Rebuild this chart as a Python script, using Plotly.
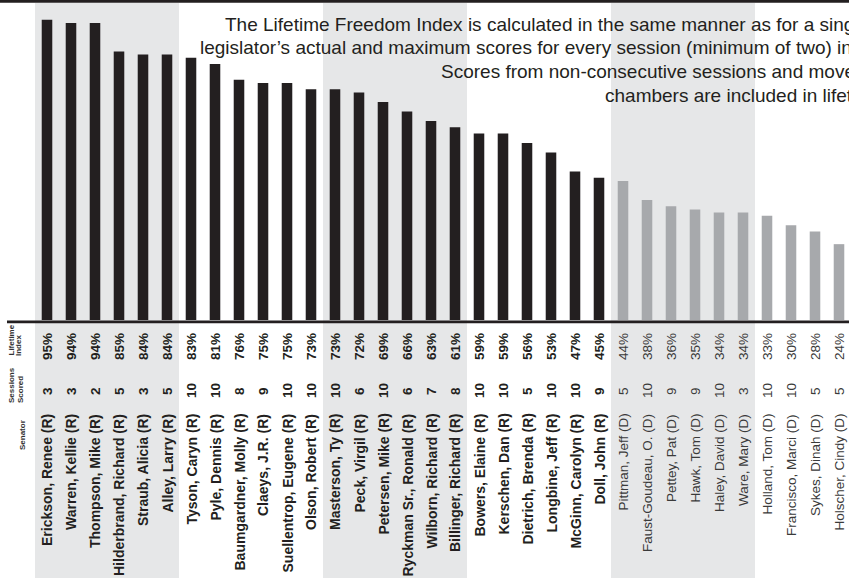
import plotly.graph_objects as go

senators = ["Erickson, Renee (R)", "Warren, Kellie (R)", "Thompson, Mike (R)",
            "Hilderbrand, Richard (R)", "Straub, Alicia (R)", "Alley, Larry (R)",
            "Tyson, Caryn (R)", "Pyle, Dennis (R)", "Baumgardner, Molly (R)",
            "Claeys, J.R. (R)", "Suellentrop, Eugene (R)", "Olson, Robert (R)",
            "Masterson, Ty (R)", "Peck, Virgil (R)", "Petersen, Mike (R)",
            "Ryckman Sr., Ronald (R)", "Wilborn, Richard (R)", "Billinger, Richard (R)",
            "Bowers, Elaine (R)", "Kerschen, Dan (R)", "Dietrich, Brenda (R)",
            "Longbine, Jeff (R)", "McGinn, Carolyn (R)", "Doll, John (R)",
            "Pittman, Jeff (D)", "Faust-Goudeau, O. (D)", "Pettey, Pat (D)",
            "Hawk, Tom (D)", "Haley, David (D)", "Ware, Mary (D)",
            "Holland, Tom (D)", "Francisco, Marci (D)", "Sykes, Dinah (D)",
            "Holscher, Cindy (D)"]
lifetime_index = [95, 94, 94, 85, 84, 84, 83, 81, 76, 75, 75, 73, 73, 72, 69, 66, 63, 61,
                  59, 59, 56, 53, 47, 45, 44, 38, 36, 35, 34, 34, 33, 30, 28, 24]
sessions_scored = [3, 3, 2, 5, 3, 5, 10, 10, 8, 9, 10, 10, 10, 6, 10, 6, 7, 8,
                   10, 10, 5, 10, 10, 9, 5, 10, 9, 9, 10, 3, 10, 10, 5, 5]
header_lifetime = ["Lifetime", "Index"]
header_sessions = ["Sessions", "Scored"]
header_senator = "Senator"
note_lines = [
    "The Lifetime Freedom Index is calculated in the same manner as for a single session, using the",
    "legislator\u2019s actual and maximum scores for every session (minimum of two) in which they served.",
    "Scores from non-consecutive sessions and moves between",
    "chambers are included in lifetime scores.",
]

# ---- styling / geometry ----
W, H = 849, 579
ML, MR, MT, MB = 35, 0, 4, 259
PW = W - ML - MR
PH = H - MT - MB
SLOT = 24.0
BOTTOM = H - MB

def pxx(px):
    return (px - ML) / PW

def pxy(py):
    return (BOTTOM - py) / PH

DARK = "#231f20"
GRAY = "#a7a9ac"
BAND = "#e6e7e8"
DTEXT = "#3a3a3a"
FONT = "Liberation Sans, Arial, sans-serif"

n = len(senators)
is_rep = [s.endswith("(R)") for s in senators]
colors = [DARK if r else GRAY for r in is_rep]

fig = go.Figure()
fig.add_trace(go.Bar(x=list(range(n)), y=lifetime_index, marker_color=colors,
                     marker_line_width=0, width=0.44, hoverinfo="skip"))

shapes = []
# alternating shaded bands (groups of six)
for g in range(0, n, 12):
    shapes.append(dict(type="rect", xref="x", yref="paper", x0=g - 0.5, x1=g + 5.5,
                       y0=pxy(578), y1=pxy(3), fillcolor=BAND, line_width=0, layer="below"))
# top rule
shapes.append(dict(type="rect", xref="paper", yref="paper", x0=pxx(0), x1=pxx(W),
                   y0=pxy(2.7), y1=pxy(0), fillcolor=DARK, line_width=0, layer="above"))
# baseline rule
shapes.append(dict(type="rect", xref="paper", yref="paper", x0=pxx(7), x1=pxx(W),
                   y0=pxy(323.3), y1=pxy(320.5), fillcolor=DARK, line_width=0, layer="above"))

ann = []
for i in range(n):
    r = is_rep[i]
    col = DARK if r else DTEXT
    def t(s):
        return f"<b>{s}</b>" if r else s
    ann.append(dict(x=i, xref="x", y=pxy(347), yref="paper", text=t(f"{lifetime_index[i]}%"),
                    textangle=-90, showarrow=False, xanchor="center", yanchor="middle",
                    font=dict(family=FONT, size=13.5, color=col)))
    ann.append(dict(x=i, xref="x", y=pxy(391), yref="paper", text=t(str(sessions_scored[i])),
                    textangle=-90, showarrow=False, xanchor="center", yanchor="middle",
                    font=dict(family=FONT, size=13.5, color=col)))
    ann.append(dict(x=i, xref="x", y=pxy(413), yref="paper", text=t(senators[i]),
                    textangle=-90, showarrow=False, xanchor="center", yanchor="top",
                    borderpad=0,
                    font=dict(family=FONT, size=14 if r else 13.5, color=col)))

hdr_font = dict(family=FONT, size=8, color="#333333")
for txt, cx, by in [(header_lifetime[0], 11, 358), (header_lifetime[1], 18.5, 358),
                    (header_sessions[0], 11, 405), (header_sessions[1], 20.5, 405),
                    (header_senator, 22, 452)]:
    ann.append(dict(x=pxx(cx), xref="paper", y=pxy(by), yref="paper", text=f"<b>{txt}</b>",
                    textangle=-90, showarrow=False, xanchor="center", yanchor="bottom",
                    font=hdr_font))

for txt, lx, cy in zip(note_lines, [223, 198, 439, 603], [24.5, 48, 71.5, 95]):
    ann.append(dict(x=pxx(lx), xref="paper", y=pxy(cy), yref="paper", text=txt,
                    showarrow=False, xanchor="left", yanchor="middle",
                    font=dict(family=FONT, size=19, color=DARK)))

fig.update_layout(
    width=W, height=H,
    margin=dict(l=ML, r=MR, t=MT, b=MB, pad=0, autoexpand=False),
    paper_bgcolor="white", plot_bgcolor="rgba(0,0,0,0)",
    showlegend=False,
    xaxis=dict(range=[-0.5, -0.5 + PW / SLOT], visible=False, fixedrange=True),
    yaxis=dict(range=[0, 100], visible=False, fixedrange=True),
    shapes=shapes, annotations=ann,
)

fig.write_html("out.html", config={"displayModeBar": False},
               post_script="document.body.style.margin='0px';document.body.style.overflow='hidden';")
